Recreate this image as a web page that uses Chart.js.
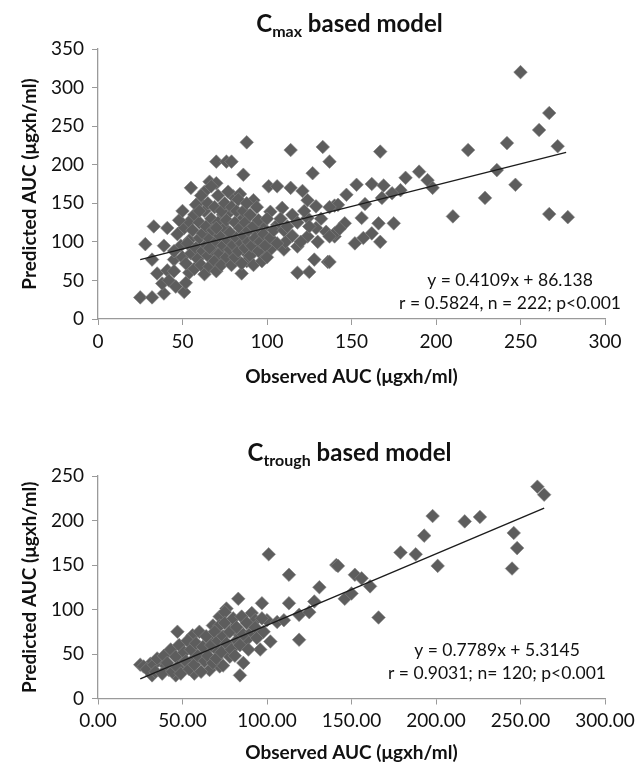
<!DOCTYPE html>
<html>
<head>
<meta charset="utf-8">
<script src="https://cdn.jsdelivr.net/npm/chart.js@4/dist/chart.umd.min.js"></script>
<style>
  body { margin: 0; background: #fff; }
  #pagina { position: relative; width: 644px; height: 766px; font-family: Lato, sans-serif; }
  canvas { position: absolute; left: 0; }
  .titulo { position: absolute; left: 96px; width: 507px; text-align: center; font-weight: bold; font-size: 24px; color: #111; }
  .titulo sub { font-size: 16px; vertical-align: -5px; line-height: 0; }
</style>
</head>
<body>
<div id="pagina">
  <canvas id="graficoCmax" width="644" height="390" style="top:0"></canvas>
  <canvas id="graficoCtrough" width="644" height="378" style="top:388px"></canvas>
  <div class="titulo" style="top:8px">C<sub>max</sub> based model</div>
  <div class="titulo" style="top:437px">C<sub>trough</sub> based model</div>
</div>
<script>
const cmaxObservado = [25,32,39,38,35,32,28,33,41,39,49,51,54,54,45,41,51,52,54,55,60,63,66,70,70,76,79,88,86,80,84,92,101,106,114,121,114,133,137,127,124,129,140,102,109,115,124,74,78,86,72,98,106,94,129,135,140,124,118,102,110,111,98,74,74,88,88,85,118,125,128,136,84,80,
    250,267,261,272,242,219,167,190,236,182,195,198,247,153,162,169,179,174,147,168,158,142,229,137,156,210,267,278,146,166,175,140,143,162,157,152,167,137,137,
    45,47,48,50,50,52,53,55,56,57,57,58,58,59,60,60,61,61,62,62,63,63,64,64,65,65,66,66,67,67,68,68,69,69,70,70,71,71,72,72,73,73,74,75,75,76,76,77,77,78,78,79,79,80,81,81,82,82,83,83,84,85,85,86,86,87,87,88,89,89,90,90,91,92,92,93,94,95,95,96,97,98,99,100,100,102,104,106,108,110,112,115,118,120,122,125,130,132,42,45,46,60,66,70];
const cmaxPrevisto = [28,28,33,46,59,77,97,120,118,95,95,118,126,102,77,63,35,47,60,170,152,165,178,176,204,204,204,229,187,159,162,154,172,172,170,166,219,223,204,189,154,146,147,139,144,135,131,135,139,131,120,118,122,111,118,113,107,107,94,90,90,100,83,85,78,85,75,59,60,61,77,74,100,107,
    320,267,245,224,228,219,217,191,193,183,180,170,174,174,175,173,167,163,161,157,149,148,157,145,131,133,136,132,124,124,124,111,117,111,105,98,100,107,74,
    88,110,128,80,140,72,98,85,115,135,65,92,148,78,105,125,70,160,88,111,140,58,96,120,82,150,68,104,130,172,90,115,75,145,100,62,125,160,85,108,140,70,95,118,150,80,128,102,165,90,112,70,145,96,125,80,140,105,88,155,118,72,98,140,108,92,125,150,100,115,82,135,95,120,70,105,145,88,128,100,75,110,95,130,80,105,115,98,130,115,120,108,125,100,140,120,100,130,50,62,42,140,92,118];
const cmaxTendenciaX = [25, 277];
const cmaxTendenciaY = [77, 216];
const cmaxEquacao = ['y = 0.4109x + 86.138', 'r = 0.5824, n = 222; p<0.001'];

// Dados - modelo Ctrough
const troughObservado = [47,56,25,31,36,42,50,57,64,68,72,76,66,70,32,46,57,66,72,40,
    101,113,131,141,83,97,113,128,75,91,93,100,106,110,119,125,72,80,84,88,102,119,96,76,78,86,84,74,82,
    260,264,198,217,226,193,246,248,179,188,201,245,142,152,156,161,146,150,166,
    27,29,33,34,35,38,39,41,43,44,46,47,48,49,51,52,53,54,55,57,58,59,60,61,62,63,64,65,67,68,69,70,71,73,74,75,76,78,79,80,81,82,84,85,86,88,89,91,93,94,97,98];
const troughPrevisto = [75,71,38,39,43,32,40,45,53,82,92,101,66,55,26,26,28,32,36,37,
    162,139,125,150,112,107,107,109,97,96,88,88,86,88,94,97,82,79,71,66,64,66,55,58,47,40,26,37,65,
    238,229,205,199,204,183,186,169,164,162,149,146,149,139,135,126,112,118,91,
    36,33,38,30,45,28,48,40,55,30,47,35,60,28,52,42,65,33,55,38,62,48,75,30,58,42,70,48,60,40,75,45,65,52,70,85,62,75,55,90,48,80,60,92,72,85,55,75,80,68,90,75];
const troughTendenciaX = [25, 264];
const troughTendenciaY = [22, 214];
const troughEquacao = ['y = 0.7789x + 5.3145', 'r = 0.9031; n= 120; p<0.001'];

// Eixos
const ticksX = [0, 50, 100, 150, 200, 250, 300];
const ticksYCmax = [0, 50, 100, 150, 200, 250, 300, 350];
const ticksYTrough = [0, 50, 100, 150, 200, 250];
const tituloX = 'Observed AUC (μgxh/ml)';
const tituloY = 'Predicted AUC (μgxh/ml)';

Chart.defaults.font.family = 'Lato, sans-serif';
Chart.defaults.color = '#111';

const corEixo = '#9a9a9a';

// Texto da equação dentro da área do gráfico
const textoEquacao = {
    id: 'textoEquacao',
    afterDatasetsDraw(chart, args, opts) {
        const ctx = chart.ctx;
        const area = chart.chartArea;
        ctx.save();
        ctx.font = '17.5px Lato, sans-serif';
        ctx.fillStyle = '#111';
        ctx.textAlign = 'center';
        ctx.textBaseline = 'middle';
        opts.linhas.forEach((linha, i) => {
            ctx.fillText(linha, area.right - opts.dx, area.bottom - opts.dy + i * 23);
        });
        ctx.restore();
    }
};

function montarPontos(xs, ys) {
    return xs.map((x, i) => ({ x: x, y: ys[i] }));
}

function montarOpcoes(ticksY, alturaX, topo, formatoX, equacao) {
    return {
        responsive: false,
        animation: false,
        layout: { padding: { top: topo, right: 39, left: 10, bottom: 0 } },
        plugins: {
            legend: { display: false },
            tooltip: { enabled: false },
            textoEquacao: equacao
        },
        scales: {
            x: {
                type: 'linear',
                min: ticksX[0],
                max: ticksX[ticksX.length - 1],
                afterBuildTicks: (escala) => { escala.ticks = ticksX.map(v => ({ value: v })); },
                afterFit: (escala) => { escala.height = alturaX; },
                ticks: { font: { size: 19 }, padding: 5, maxRotation: 0, callback: formatoX },
                grid: { drawOnChartArea: false, drawTicks: true, tickLength: 6, color: corEixo },
                border: { display: true, color: corEixo, width: 1.3 },
                title: { display: true, text: tituloX, font: { size: 19, weight: 'bold' }, padding: { top: 0, bottom: 2 } }
            },
            y: {
                type: 'linear',
                min: ticksY[0],
                max: ticksY[ticksY.length - 1],
                afterBuildTicks: (escala) => { escala.ticks = ticksY.map(v => ({ value: v })); },
                afterFit: (escala) => { escala.width = 88; },
                ticks: { font: { size: 19 }, padding: 8 },
                grid: { drawOnChartArea: false, drawTicks: true, tickLength: 6, color: corEixo },
                border: { display: true, color: corEixo, width: 1.3 },
                title: { display: true, text: tituloY, font: { size: 19, weight: 'bold' }, padding: { top: 8, bottom: 0 } }
            }
        }
    };
}

function montarDatasets(xs, ys, tx, ty) {
    return [{
        // linha de tendência (desenhada por cima)
        data: montarPontos(tx, ty),
        showLine: true,
        borderColor: '#1c1c1c',
        borderWidth: 1.4,
        pointRadius: 0
    }, {
        data: montarPontos(xs, ys),
        pointStyle: 'rectRot',
        pointRadius: 6.8,
        backgroundColor: '#5d5d5d',
        borderColor: '#858585',
        borderWidth: 0.6
    }];
}

//Gráfico Cmax
const elementoCmax = document.getElementById('graficoCmax');
const graficoCmax = new Chart(elementoCmax, {
    type: 'scatter',
    data: { datasets: montarDatasets(cmaxObservado, cmaxPrevisto, cmaxTendenciaX, cmaxTendenciaY) },
    options: montarOpcoes(ticksYCmax, 71, 49, (v) => v, { linhas: cmaxEquacao, dx: 95, dy: 39 }),
    plugins: [textoEquacao]
});

//Gráfico Ctrough
const elementoCtrough = document.getElementById('graficoCtrough');
const graficoCtrough = new Chart(elementoCtrough, {
    type: 'scatter',
    data: { datasets: montarDatasets(troughObservado, troughPrevisto, troughTendenciaX, troughTendenciaY) },
    options: montarOpcoes(ticksYTrough, 67.5, 88, (v) => Number(v).toFixed(2), { linhas: troughEquacao, dx: 108, dy: 48.5 }),
    plugins: [textoEquacao]
});
</script>
</body>
</html>
